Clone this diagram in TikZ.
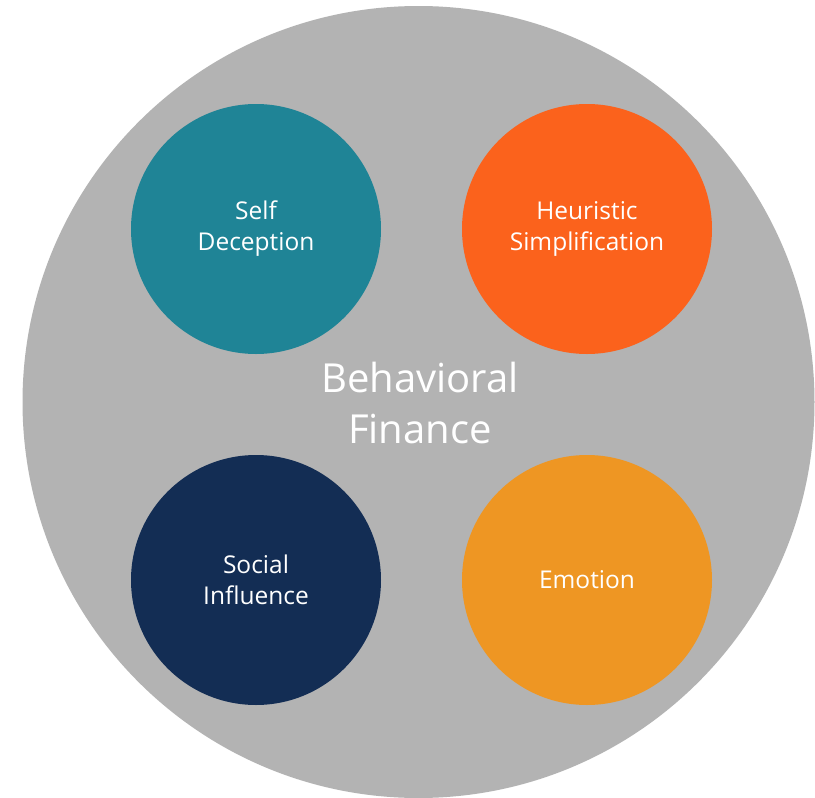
\documentclass[tikz,border=0pt]{standalone}
\usepackage{fontspec}
\setmainfont{Open Sans}
\definecolor{biggray}{HTML}{B3B3B3}
\definecolor{tealc}{HTML}{1F8496}
\definecolor{orangec}{HTML}{FB621C}
\definecolor{navyc}{HTML}{132D54}
\definecolor{amberc}{HTML}{EE9623}
\begin{document}
\begin{tikzpicture}[x=1pt,y=-1pt,
  bubble/.style={circle,minimum size=250pt,inner sep=0pt,text=white,align=center,
    font=\fontsize{24.5}{31}\selectfont}]
\useasboundingbox (0,0) rectangle (815,798);
\fill[white] (0,0) rectangle (815,798);
\node[circle,fill=biggray,minimum size=792pt,inner sep=0pt] (main) at (418.5,402) {};
\node[text=white,align=center,font=\fontsize{40}{51}\selectfont] (title) at (420,403) {Behavioral\\Finance};
\node[bubble,fill=tealc] (self) at (256,229) {Self\\Deception};
\node[bubble,fill=orangec] (heur) at (587,229) {Heuristic\\Simplification};
\node[bubble,fill=navyc] (soc) at (256,580) {Social\\Influence};
\node[bubble,fill=amberc] (emo) at (587,580) {Emotion};
\end{tikzpicture}
\end{document}
